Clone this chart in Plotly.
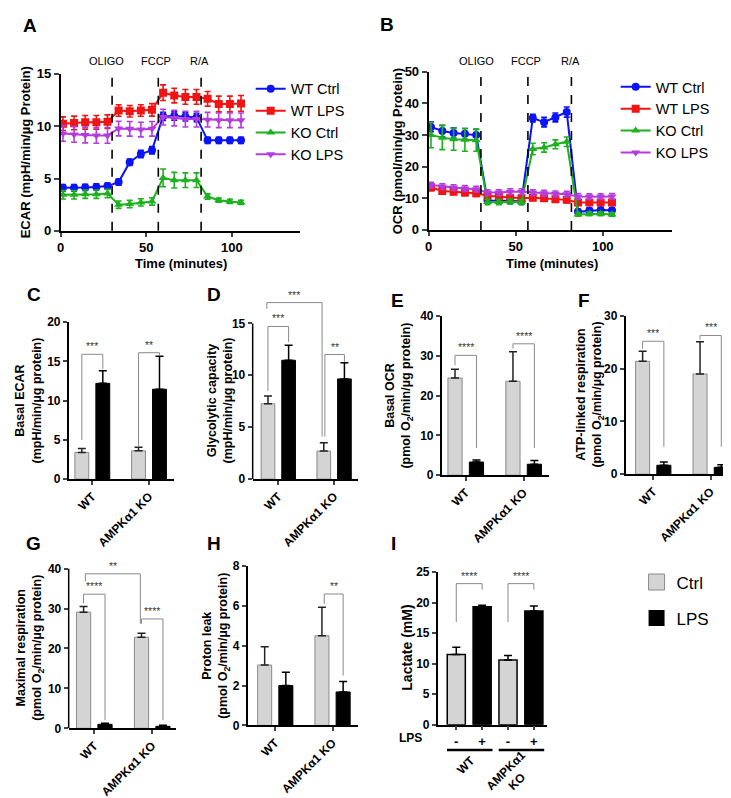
import plotly.graph_objects as go

W, H = 731, 798
FONT = "Arial, Liberation Sans, sans-serif"

# ---------------- DATA ----------------
time_min = [1.3, 7.8, 14.3, 20.8, 27.3, 33.8, 40.3, 46.8, 53.3, 59.8, 66.3, 72.8, 79.3, 85.8, 92.3, 98.8, 105.3]
injection_times = [30, 57, 82]
injection_labels = ["OLIGO", "FCCP", "R/A"]
series_names = ["WT Ctrl", "WT LPS", "KO Ctrl", "KO LPS"]

ecar_wt_ctrl = [4.12, 4.12, 4.15, 4.2, 4.28, 4.66, 6.56, 7.34, 7.71, 10.94, 10.97, 10.9, 10.84, 8.65, 8.65, 8.65, 8.65]
ecar_wt_ctrl_err = [0.3, 0.3, 0.3, 0.3, 0.3, 0.3, 0.3, 0.35, 0.35, 0.4, 0.4, 0.4, 0.4, 0.3, 0.3, 0.3, 0.3]
ecar_wt_lps = [10.24, 10.31, 10.37, 10.37, 10.43, 11.5, 11.43, 11.5, 11.56, 13.2, 12.93, 12.8, 12.8, 12.62, 12.12, 12.12, 12.18]
ecar_wt_lps_err = [0.65, 0.65, 0.65, 0.65, 0.65, 0.55, 0.55, 0.55, 0.6, 0.75, 0.7, 0.7, 0.7, 0.7, 0.75, 0.75, 0.75]
ecar_ko_ctrl = [3.44, 3.44, 3.5, 3.5, 3.56, 2.5, 2.56, 2.72, 2.81, 5.06, 4.84, 4.84, 4.84, 3.28, 2.93, 2.81, 2.72]
ecar_ko_ctrl_err = [0.4, 0.4, 0.4, 0.4, 0.4, 0.35, 0.35, 0.35, 0.35, 0.85, 0.75, 0.7, 0.7, 0.25, 0.2, 0.2, 0.2]
ecar_ko_lps = [9.31, 9.21, 9.16, 9.12, 9.12, 9.78, 9.75, 9.68, 9.75, 10.87, 10.78, 10.68, 10.68, 10.62, 10.56, 10.56, 10.56]
ecar_ko_lps_err = [0.75, 0.75, 0.75, 0.75, 0.75, 0.7, 0.7, 0.7, 0.7, 0.75, 0.75, 0.75, 0.75, 0.7, 0.7, 0.7, 0.7]

ocr_wt_ctrl = [32.6, 31.3, 30.7, 30.4, 30.0, 9.3, 9.3, 9.2, 9.0, 35.4, 34.1, 35.6, 37.3, 5.7, 6.1, 6.3, 6.2]
ocr_wt_ctrl_err = [1.5, 1.8, 1.6, 1.7, 1.8, 0.7, 0.7, 0.7, 0.7, 1.2, 1.5, 1.4, 1.6, 0.8, 0.8, 0.8, 0.8]
ocr_wt_lps = [13.4, 12.3, 12.1, 11.8, 11.6, 10.8, 10.6, 10.2, 10.0, 10.2, 10.0, 9.7, 9.5, 8.7, 8.7, 8.7, 8.7]
ocr_wt_lps_err = [1.0, 1.0, 1.0, 1.0, 1.0, 0.9, 0.9, 0.9, 0.9, 0.9, 0.9, 0.9, 0.9, 0.9, 0.9, 0.9, 0.9]
ocr_ko_ctrl = [30.0, 29.2, 28.7, 28.5, 28.4, 8.8, 8.8, 9.0, 8.8, 25.6, 26.1, 27.1, 27.9, 4.9, 5.1, 5.1, 4.9]
ocr_ko_ctrl_err = [4.0, 3.8, 3.5, 3.6, 3.5, 0.8, 0.8, 0.8, 0.8, 1.8, 1.5, 1.4, 1.5, 0.6, 0.6, 0.6, 0.6]
ocr_ko_lps = [14.2, 13.7, 13.4, 13.1, 12.9, 11.8, 11.8, 12.1, 12.1, 11.8, 11.6, 11.4, 11.3, 10.6, 10.5, 10.5, 10.6]
ocr_ko_lps_err = [0.9, 0.9, 0.9, 0.9, 0.9, 0.9, 0.9, 0.9, 0.9, 0.9, 0.9, 0.9, 0.9, 0.9, 0.9, 0.9, 0.9]

groups = ["WT", "AMPKα1 KO"]
condition_names = ["Ctrl", "LPS"]

basal_ecar_ctrl = [3.4, 3.6]
basal_ecar_ctrl_err = [0.5, 0.45]
basal_ecar_lps = [12.2, 11.45]
basal_ecar_lps_err = [1.6, 4.2]

glyco_cap_ctrl = [7.26, 2.7]
glyco_cap_ctrl_err = [0.75, 0.8]
glyco_cap_lps = [11.45, 9.65]
glyco_cap_lps_err = [1.45, 1.55]

basal_ocr_ctrl = [24.4, 23.6]
basal_ocr_ctrl_err = [2.2, 7.4]
basal_ocr_lps = [3.3, 2.75]
basal_ocr_lps_err = [0.5, 0.95]

atp_resp_ctrl = [21.4, 19.0]
atp_resp_ctrl_err = [1.9, 6.1]
atp_resp_lps = [1.7, 1.3]
atp_resp_lps_err = [0.6, 0.5]

max_resp_ctrl = [29.1, 22.8]
max_resp_ctrl_err = [1.4, 1.0]
max_resp_lps = [1.0, 0.5]
max_resp_lps_err = [0.3, 0.25]

proton_leak_ctrl = [3.03, 4.5]
proton_leak_ctrl_err = [0.92, 1.43]
proton_leak_lps = [2.0, 1.68]
proton_leak_lps_err = [0.67, 0.52]

lactate_ctrl = [11.5, 10.6]
lactate_ctrl_err = [1.2, 0.75]
lactate_lps = [19.3, 18.6]
lactate_lps_err = [0.25, 0.85]
lps_signs = ["-", "+", "-", "+"]

# ---------------- STYLE ----------------
COLORS = ["#0a14f5", "#f01414", "#1fb01f", "#b43cdc"]
SYMBOLS = ["circle", "square", "triangle-up", "triangle-down"]
GRAY = "#d4d4d4"
GRAY_LINE = "#8a8a8a"
SIG_COLOR = "#3a3a3a"
BRACKET_COLOR = "#8a8a8a"


def xd(x0, x1):
    return [x0 / W, x1 / W]


def yd(yt, yb):
    return [1 - yb / H, 1 - yt / H]


fig = go.Figure()
layout = dict(
    width=W, height=H, margin=dict(l=0, r=0, t=0, b=0),
    paper_bgcolor="white", plot_bgcolor="white",
    font=dict(family=FONT, color="black"),
    barmode="overlay", showlegend=True,
)

AX = dict(showgrid=False, zeroline=False, showline=True, linecolor="black", ticks="outside", fixedrange=True)
BOLD12 = dict(family=FONT, size=12, weight="bold", color="black")
BOLD13 = dict(family=FONT, size=13, weight="bold", color="black")

# ---------- Panels A and B (time courses) ----------
line_panels = [
    (1, (49, 290, 60, 220), [0, 15], [0, 5, 10, 15], "legend",
     [ecar_wt_ctrl, ecar_wt_lps, ecar_ko_ctrl, ecar_ko_lps],
     [ecar_wt_ctrl_err, ecar_wt_lps_err, ecar_ko_ctrl_err, ecar_ko_lps_err]),
    (2, (419, 664, 58, 219), [0, 50], [0, 10, 20, 30, 40, 50], "legend2",
     [ocr_wt_ctrl, ocr_wt_lps, ocr_ko_ctrl, ocr_ko_lps],
     [ocr_wt_ctrl_err, ocr_wt_lps_err, ocr_ko_ctrl_err, ocr_ko_lps_err]),
]
for n, (x0, x1, yt, yb), yr, ytv, leg, ys, es in line_panels:
    sfx = "" if n == 1 else str(n)
    layout["xaxis" + sfx] = dict(AX, domain=xd(x0, x1), range=[0, 140], anchor="y" + sfx,
                                 linewidth=2, tickwidth=2, ticklen=4, tickvals=[0, 50, 100], tickfont=BOLD13)
    layout["yaxis" + sfx] = dict(AX, domain=yd(yt, yb), range=yr, anchor="x" + sfx,
                                 linewidth=2, tickwidth=2, ticklen=5, tickvals=ytv, tickfont=BOLD13)
    for i, name in enumerate(series_names):
        fig.add_trace(go.Scatter(
            x=time_min, y=ys[i], name=name, mode="lines+markers",
            line=dict(color=COLORS[i], width=2),
            marker=dict(symbol=SYMBOLS[i], size=8, color=COLORS[i]),
            error_y=dict(type="data", array=es[i], color=COLORS[i], thickness=1.6, width=3),
            xaxis="x" + sfx, yaxis="y" + sfx, legend=leg,
        ))

shapes = []
annotations = []
for sfx, lab_px in (("", (95, 145, 189)), ("2", (467, 517, 562))):
    for t, lab, lx in zip(injection_times, injection_labels, lab_px):
        shapes.append(dict(type="line", xref="x" + sfx, yref=("y" + sfx) + " domain", x0=t, x1=t, y0=0, y1=1,
                           line=dict(color="black", width=1.6, dash="dash")))
        annotations.append(dict(text=lab, x=lx / W, y=1 - 47 / H, xref="paper", yref="paper",
                                showarrow=False, font=dict(size=11, family=FONT), xanchor="center", yanchor="middle"))

legend_style = dict(xanchor="left", yanchor="top", bgcolor="rgba(0,0,0,0)", font=dict(size=14.5, family=FONT),
                    itemwidth=30, tracegroupgap=0)
layout["legend"] = dict(legend_style, x=240 / W, y=1 - 59 / H)
layout["legend2"] = dict(legend_style, x=607 / W, y=1 - 57 / H)

# ---------- Bar panels C-H ----------
OFF = 0.185
BW = 0.245
bar_panels = [
    (3, (57, 163, 313, 473), [-0.417, 1.443], [0, 20], [0, 5, 10, 15, 20], None,
     basal_ecar_ctrl, basal_ecar_ctrl_err, basal_ecar_lps, basal_ecar_lps_err),
    (4, (242, 348, 280, 473), [-0.459, 1.430], [0, 18.24], [0, 5, 10, 15], 15,
     glyco_cap_ctrl, glyco_cap_ctrl_err, glyco_cap_lps, glyco_cap_lps_err),
    (5, (432, 540, 306.7, 469), [-0.416, 1.438], [0, 40], [0, 10, 20, 30, 40], None,
     basal_ocr_ctrl, basal_ocr_ctrl_err, basal_ocr_lps, basal_ocr_lps_err),
    (6, (617, 726, 306.7, 468), [-0.481, 1.407], [0, 30], [0, 10, 20, 30], None,
     atp_resp_ctrl, atp_resp_ctrl_err, atp_resp_lps, atp_resp_lps_err),
    (7, (57, 165, 550, 727), [-0.442, 1.412], [0, 43.5], [0, 10, 20, 30, 40], 40,
     max_resp_ctrl, max_resp_ctrl_err, max_resp_lps, max_resp_lps_err),
    (8, (237, 348, 561.7, 724), [-0.481, 1.446], [0, 8], [0, 2, 4, 6, 8], None,
     proton_leak_ctrl, proton_leak_ctrl_err, proton_leak_lps, proton_leak_lps_err),
]
gidx = list(range(len(groups)))
for n, (x0, x1, yt, yb), xr, yr, ytv, yline, c, ce, l, le in bar_panels:
    sx = str(n)
    layout["xaxis" + sx] = dict(AX, domain=xd(x0, x1), range=xr, anchor="y" + sx, linewidth=1.5, tickwidth=1.5,
                                ticklen=4, tickvals=gidx, ticktext=groups, tickangle=-45, tickfont=BOLD12)
    layout["yaxis" + sx] = dict(AX, domain=yd(yt, yb), range=yr, anchor="x" + sx, linewidth=1.5, tickwidth=1.5,
                                ticklen=4, tickvals=ytv, tickfont=BOLD12, showline=(yline is None))
    if yline is not None:
        shapes.append(dict(type="line", xref="x" + sx + " domain", yref="y" + sx, x0=0, x1=0, y0=0, y1=yline,
                           line=dict(color="black", width=1.5)))
    fig.add_trace(go.Bar(x=[g - OFF for g in gidx], y=c, width=BW, name="Ctrl", showlegend=False,
                         marker=dict(color=GRAY, line=dict(color=GRAY_LINE, width=1)),
                         error_y=dict(type="data", symmetric=False, array=ce, arrayminus=[0, 0],
                                      color="#222222", thickness=1.5, width=4),
                         xaxis="x" + sx, yaxis="y" + sx))
    fig.add_trace(go.Bar(x=[g + OFF for g in gidx], y=l, width=BW, name="LPS", showlegend=False,
                         marker=dict(color="black", line=dict(color="black", width=1)),
                         error_y=dict(type="data", symmetric=False, array=le, arrayminus=[0, 0],
                                      color="black", thickness=1.5, width=4),
                         xaxis="x" + sx, yaxis="y" + sx))

# ---------- Panel I (lactate) ----------
layout["xaxis9"] = dict(AX, domain=xd(428, 538), range=[-0.72, 3.51], anchor="y9", linewidth=1.5, tickwidth=1.5,
                        ticklen=4, tickvals=[0, 1, 2, 3], ticktext=lps_signs, tickangle=0,
                        tickfont=dict(family=FONT, size=13, weight="bold"))
layout["yaxis9"] = dict(AX, domain=yd(567.7, 723.3), range=[0, 25], anchor="x9", linewidth=1.5, tickwidth=1.5,
                        ticklen=4, tickvals=[0, 5, 10, 15, 20, 25], tickfont=BOLD12)
fig.add_trace(go.Bar(x=[2 * g for g in gidx], y=lactate_ctrl, width=0.7, name="Ctrl", showlegend=False,
                     marker=dict(color=GRAY, line=dict(color="black", width=1.5)),
                     error_y=dict(type="data", symmetric=False, array=lactate_ctrl_err, arrayminus=[0, 0],
                                  color="black", thickness=1.5, width=4),
                     xaxis="x9", yaxis="y9"))
fig.add_trace(go.Bar(x=[2 * g + 1 for g in gidx], y=lactate_lps, width=0.7, name="LPS", showlegend=False,
                     marker=dict(color="black", line=dict(color="black", width=1.5)),
                     error_y=dict(type="data", symmetric=False, array=lactate_lps_err, arrayminus=[0, 0],
                                  color="black", thickness=1.5, width=4),
                     xaxis="x9", yaxis="y9"))
annotations.append(dict(text="LPS", x=401 / W, y=1 - 737 / H, xref="paper", yref="paper", showarrow=False,
                        font=BOLD12, xanchor="center", yanchor="middle"))
for g in gidx:
    shapes.append(dict(type="line", xref="x9", yref="paper", x0=2 * g - 0.36, x1=2 * g + 1.4,
                       y0=1 - 749 / H, y1=1 - 749 / H, line=dict(color="black", width=2.5)))
annotations.append(dict(text="WT", x=0.37, y=1 - 764 / H, xref="x9", yref="paper", showarrow=False,
                        textangle=-45, font=BOLD12, xanchor="center", yanchor="middle"))
annotations.append(dict(text="AMPKα1<br>KO", x=2.15, y=1 - 776 / H, xref="x9", yref="paper", showarrow=False,
                        textangle=-45, font=BOLD12, xanchor="center", yanchor="middle"))

# Ctrl / LPS legend
fig.add_trace(go.Scatter(x=[None], y=[None], mode="markers", name="Ctrl", legend="legend3", legendgroup="c",
                         marker=dict(symbol="square", size=16, color=GRAY, line=dict(color=GRAY_LINE, width=1)),
                         xaxis="x9", yaxis="y9"))
fig.add_trace(go.Scatter(x=[None], y=[None], mode="markers", name="LPS", legend="legend3", legendgroup="l",
                         marker=dict(symbol="square", size=16, color="black"),
                         xaxis="x9", yaxis="y9"))
layout["legend3"] = dict(xanchor="left", yanchor="top", x=628 / W, y=1 - 560 / H, bgcolor="rgba(0,0,0,0)",
                         font=dict(size=17, family=FONT), tracegroupgap=11, itemwidth=30)

# ---------- Significance brackets ----------
def bx(g, s):
    return g - OFF if s == 0 else g + OFF

brackets = [
    (3, bx(0, 0), bx(0, 1), 15.9, 5.0, 14.0, "***"),
    (3, bx(1, 0), bx(1, 1), 16.1, 4.2, 15.8, "**"),
    (4, bx(0, 0), bx(0, 1), 14.7, 8.5, 13.2, "***"),
    (4, bx(0, 0) - 0.02, bx(1, 0) - 0.03, 17.0, 16.4, 4.1, "***"),
    (4, bx(1, 0) + 0.02, bx(1, 1), 12.0, 4.1, 11.3, "**"),
    (5, bx(0, 0), bx(0, 1), 30.1, 27.6, 6.8, "****"),
    (5, bx(1, 0), bx(1, 1), 33.0, 31.8, 6.8, "****"),
    (6, bx(0, 0), bx(0, 1), 25.2, 23.8, 5.2, "***"),
    (6, bx(1, 0), bx(1, 1), 26.3, 25.5, 5.2, "***"),
    (7, bx(0, 0), bx(0, 1), 33.6, 31.3, 2.1, "****"),
    (7, bx(0, 0) + 0.03, bx(1, 0) - 0.02, 38.7, 36.8, 26.2, "**"),
    (7, bx(1, 0), bx(1, 1), 27.4, 26.2, 2.1, "****"),
    (8, bx(1, 0) + 0.04, bx(1, 1), 6.6, 6.1, 2.5, "**"),
    (9, 0, 1, 23.1, 16.8, 22.1, "****"),
    (9, 2, 3, 23.1, 16.8, 22.1, "****"),
]
for n, xl, xr_, yv, ylb, yrb, txt in brackets:
    sx = str(n)
    shapes.append(dict(type="path", xref="x" + sx, yref="y" + sx,
                       path=f"M {xl},{ylb} L {xl},{yv} L {xr_},{yv} L {xr_},{yrb}",
                       line=dict(color=BRACKET_COLOR, width=1)))
    annotations.append(dict(text=txt, x=(xl + xr_) / 2, y=yv, xref="x" + sx, yref="y" + sx, showarrow=False,
                            xanchor="center", yanchor="bottom", yshift=0,
                            font=dict(size=10.5, color=SIG_COLOR, family=FONT)))

# ---------- Axis titles & panel letters ----------
ytitles = [
    ("ECAR (mpH/min/µg Protein)", 13, 140, 13),
    ("OCR (pmol/min/µg Protein)", 388, 139, 13),
    ("Basal ECAR<br>(mpH/min/µg protein)", 16, 393, 12.5),
    ("Glycolytic capacity<br>(mpH/min/µg protein)", 209, 393, 12.5),
    ("Basal OCR<br>(pmol O<sub>2</sub>/min/µg protein)", 389, 388, 12.5),
    ("ATP-linked respiration<br>(pmol O<sub>2</sub>/min/µg protein)", 581, 387, 12.5),
    ("Maximal respiration<br>(pmol O<sub>2</sub>/min/µg protein)", 18, 645, 12.5),
    ("Proton leak<br>(pmol O<sub>2</sub>/min/µg protein)", 205, 643, 12.5),
    ("Lactate (mM)", 397, 645, 14),
]
for txt, px, py, fs in ytitles:
    annotations.append(dict(text=txt, x=px / W, y=1 - py / H, xref="paper", yref="paper", showarrow=False,
                            textangle=-90, xanchor="center", yanchor="middle",
                            font=dict(size=fs, family=FONT, weight="bold")))
for px in (170, 543):
    annotations.append(dict(text="Time (minutes)", x=px / W, y=1 - 253 / H, xref="paper", yref="paper",
                            showarrow=False, xanchor="center", yanchor="middle",
                            font=dict(size=13, family=FONT, weight="bold")))

letters = [("A", 18, 11), ("B", 377, 10), ("C", 22, 285), ("D", 203, 285), ("E", 388, 291),
           ("F", 575, 291), ("G", 22, 539), ("H", 203, 539), ("I", 384, 539)]
for t, px, py in letters:
    annotations.append(dict(text=t, x=px / W, y=1 - py / H, xref="paper", yref="paper", showarrow=False,
                            xanchor="center", yanchor="middle", font=dict(size=19, family=FONT, weight="bold")))

layout["shapes"] = shapes
layout["annotations"] = annotations
fig.update_layout(**layout)
fig.write_html("out.html")
